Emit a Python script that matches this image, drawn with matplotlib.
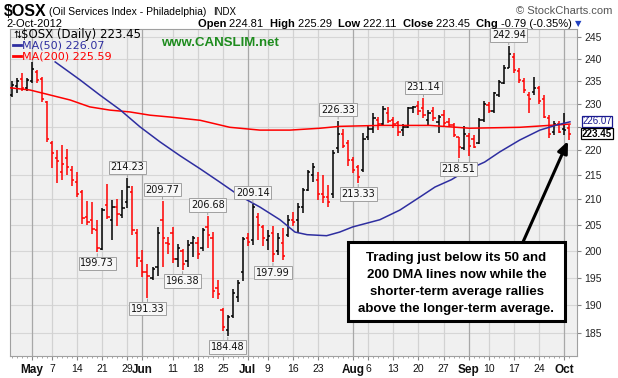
import matplotlib
matplotlib.use('Agg')
import matplotlib.pyplot as plt
import numpy as np
import pandas as pd
from matplotlib.ticker import FixedLocator, NullLocator, FixedFormatter
from matplotlib.patches import Rectangle

# ---------------- data ----------------
dates = pd.bdate_range('2012-04-25', '2012-10-02')
holidays = pd.to_datetime(['2012-05-28', '2012-07-04', '2012-09-03'])
dates = dates[~dates.isin(holidays)]

opens = [232.0, 234.0, 235.5, 233.5, 235.0, 237.0, 235.5, 230.3, 221.5, 218.5,
         215.5, 218.5, 216.0, 213.5, 211.5, 206.5, 206.0, 204.0, 200.4, 209.0,
         206.0, 208.5, 207.0, 209.5, 211.5, 203.5, 198.0, 196.0, 195.0, 197.0,
         206.0, 201.5, 203.5, 198.5, 200.0, 198.0, 201.5, 201.5, 200.5, 204.5,
         202.5, 193.0, 189.0, 185.5, 188.0, 191.5, 196.0, 202.5, 202.0, 206.5,
         204.5, 202.0, 203.5, 200.0, 201.5, 203.0, 206.0, 206.0, 208.5, 212.0,
         215.0, 214.0, 211.0, 210.5, 211.0, 220.5, 223.5, 221.5, 218.0, 216.5,
         216.0, 222.8, 224.5, 226.5, 225.5, 228.0, 226.5, 225.8, 224.3, 225.0,
         229.0, 229.5, 229.0, 226.5, 228.5, 226.0, 227.5, 226.0, 225.3, 222.9,
         220.5, 223.0, 222.5, 221.5, 226.5, 229.8, 228.3, 232.0, 234.5, 238.0,
         240.5, 237.3, 235.0, 232.0, 232.5, 233.5, 231.0, 227.0, 223.8, 225.5,
         224.5, 224.81]
highs = [234.9, 235.7, 236.8, 235.7, 239.3, 237.5, 235.9, 230.6, 221.9, 220.0,
         221.1, 220.4, 216.8, 215.6, 211.8, 209.7, 209.4, 205.9, 208.3, 213.1,
         209.8, 210.0, 212.0, 214.23, 212.7, 204.2, 200.1, 197.6, 197.0, 204.6,
         209.77, 202.6, 204.6, 201.3, 200.4, 202.0, 202.8, 202.6, 204.3, 206.68,
         203.7, 194.5, 189.5, 188.2, 192.9, 194.5, 202.6, 203.5, 209.14, 207.3,
         205.0, 204.0, 204.8, 203.4, 204.4, 206.9, 207.5, 209.3, 212.3, 216.0,
         217.3, 215.5, 215.0, 212.9, 220.1, 226.33, 224.5, 222.2, 218.6, 217.0,
         223.6, 225.1, 227.9, 227.2, 229.5, 229.3, 227.2, 226.3, 225.5, 229.3,
         229.5, 230.6, 231.14, 228.7, 229.3, 227.5, 228.7, 226.8, 225.8, 222.9,
         225.1, 223.6, 223.2, 226.8, 230.6, 230.4, 232.6, 235.2, 238.5, 242.94,
         241.3, 237.9, 235.6, 232.5, 236.0, 233.8, 231.8, 227.5, 226.3, 226.3,
         227.9, 225.29]
lows = [231.4, 232.4, 232.7, 232.8, 234.5, 234.6, 230.3, 221.8, 216.3, 213.3,
        213.9, 214.9, 212.8, 210.4, 205.2, 204.9, 203.3, 199.73, 200.1, 206.1,
        202.0, 204.8, 206.4, 208.4, 203.0, 197.0, 195.1, 191.33, 194.6, 195.2,
        197.0, 199.5, 197.7, 197.0, 196.38, 197.0, 198.9, 198.5, 200.0, 200.5,
        191.2, 191.0, 185.3, 184.48, 187.7, 190.5, 194.3, 201.0, 201.2, 202.0,
        200.9, 200.1, 197.99, 199.2, 198.3, 202.7, 204.8, 203.4, 207.3, 211.6,
        213.6, 209.9, 209.3, 208.6, 210.3, 219.5, 220.5, 216.7, 215.3, 213.33,
        215.5, 222.1, 223.6, 224.3, 225.3, 225.8, 224.8, 223.0, 223.0, 224.8,
        228.0, 227.5, 226.8, 225.1, 226.3, 223.6, 225.1, 225.0, 222.9, 218.51,
        220.0, 218.8, 220.5, 221.3, 226.0, 227.9, 227.9, 231.5, 234.3, 237.9,
        236.7, 234.5, 232.3, 227.9, 231.8, 230.0, 226.8, 222.7, 223.3, 223.6,
        223.3, 222.11]
closes = [234.2, 235.0, 233.5, 235.2, 237.8, 235.2, 231.0, 222.5, 219.5, 217.8,
          217.2, 216.5, 214.0, 211.0, 206.3, 205.5, 204.2, 200.5, 208.0, 206.5,
          208.5, 207.2, 208.4, 212.5, 204.0, 198.6, 196.0, 195.3, 196.5, 203.5,
          202.5, 201.3, 198.5, 200.5, 197.5, 201.2, 202.5, 199.5, 204.0, 203.0,
          192.5, 192.0, 186.0, 187.8, 192.2, 194.0, 202.2, 201.7, 208.5, 205.0,
          202.5, 202.9, 199.5, 202.5, 199.0, 206.0, 205.5, 208.6, 212.0, 215.5,
          216.5, 211.0, 210.5, 209.5, 219.5, 223.5, 221.0, 218.0, 216.0, 214.5,
          222.5, 224.5, 227.0, 225.5, 228.8, 226.2, 225.5, 224.0, 225.0, 229.0,
          229.3, 228.5, 227.5, 228.0, 226.8, 227.2, 225.8, 225.3, 223.3, 220.8,
          223.5, 221.0, 220.8, 226.5, 230.0, 228.5, 232.3, 234.8, 238.0, 241.0,
          237.5, 235.3, 233.0, 231.0, 233.5, 230.5, 227.2, 223.5, 225.5, 224.0,
          224.24, 223.45]

# moving averages (trading-day number, value)
ma50_day = [8.6, 13.5, 17.5, 21.5, 25.5, 29.5, 33.5, 37.5, 41.4, 45.4, 49.4, 53.4,
            56.4, 58.8, 62.7, 65.3, 67.9, 73.3, 77.3, 81.3, 84.3, 87.6, 90.8, 94.2,
            97.2, 101.2, 105.2, 108.6, 111.2]
ma50_val = [239.3, 235.3, 231.9, 228.7, 225.0, 221.8, 218.9, 216.2, 213.5, 210.7,
            208.5, 206.0, 203.6, 203.1, 202.9, 203.6, 204.6, 206.0, 207.9, 210.5,
            212.5, 214.0, 216.0, 217.6, 219.7, 222.2, 224.3, 225.4, 226.07]
ma200_day = [-0.4, 3.6, 7.6, 11.6, 15.5, 19.5, 23.5, 27.5, 31.5, 37.5, 43.4, 49.4,
             55.4, 61.4, 65.3, 73.3, 83.3, 91.2, 101.2, 111.2]
ma200_val = [233.5, 233.0, 231.9, 230.8, 229.3, 228.6, 228.2, 227.5, 227.1, 226.4,
             224.9, 224.3, 224.3, 224.7, 225.1, 225.3, 225.3, 224.7, 224.9, 225.59]

ytick_vals = [185, 190, 195, 200, 205, 210, 215, 220, 225, 230, 235, 240, 245]
# the 225 label is hidden behind the price tags in the reference
ytick_labels = ['185', '190', '195', '200', '205', '210', '215', '220', '', '230',
                '235', '240', '245']
tick_dates = ['2012-05-01', '2012-05-07', '2012-05-14', '2012-05-21', '2012-05-29',
              '2012-06-01', '2012-06-11', '2012-06-18', '2012-06-25', '2012-07-02',
              '2012-07-09', '2012-07-16', '2012-07-23', '2012-08-01', '2012-08-06',
              '2012-08-13', '2012-08-20', '2012-08-27', '2012-09-04', '2012-09-10',
              '2012-09-17', '2012-09-24', '2012-10-01']
tick_labels = ['May', '7', '14', '21', '29', 'Jun', '11', '18', '25', 'Jul', '9', '16',
               '23', 'Aug', '6', '13', '20', '27', 'Sep', '10', '17', '24', 'Oct']
month_labels = ['May', 'Jun', 'Jul', 'Aug', 'Sep', 'Oct']

label_dates = ['2012-05-18', '2012-05-29', '2012-06-04', '2012-06-07', '2012-06-13',
               '2012-06-20', '2012-06-26', '2012-07-03', '2012-07-10', '2012-07-27',
               '2012-08-02', '2012-08-21', '2012-08-30', '2012-09-14']
label_kind = ['low', 'high', 'low', 'high', 'low', 'high', 'low', 'high', 'low',
              'high', 'low', 'high', 'low', 'high']

symbol = '$OSX'
last_date = '2-Oct-2012'
chg = -0.79
chg_pct = -0.35
ma50_last = 226.07
ma200_last = 225.59
note_lines = ['Trading just below its 50 and', '200 DMA lines now while the',
              'shorter-term average rallies', 'above the longer-term average.']

# ---------------- figure ----------------
W, H = 618, 378
fig = plt.figure(figsize=(W / 100, H / 100), dpi=100)
fig.patch.set_facecolor('white')
L, R, T, B = 10, 577, 29, 356
ax = fig.add_axes([L / W, 1 - B / H, (R - L) / W, (B - T) / H])
ax.set_facecolor('#F0F0F0')
ax.set_yscale('log')
ax.set_ylim(181.0, 246.9)
ax.set_xlim(-0.4, 112.6)

n = len(closes)
x = np.arange(n)
day_of = {d.strftime('%Y-%m-%d'): i for i, d in enumerate(dates)}

# grid
for v in ytick_vals:
    ax.axhline(v, color='#D6D6D6', lw=0.8, zorder=0)
tick_pos = [day_of[d] for d in tick_dates]
for p, lab in zip(tick_pos, tick_labels):
    c = '#A8A8A8' if lab in month_labels else '#D2D2D2'
    ax.axvline(p, color=c, lw=0.9, zorder=0)

# OHLC bars
cols = []
for i in range(n):
    prev = closes[i - 1] if i > 0 else opens[i]
    cols.append('#000000' if closes[i] >= prev else '#FF0000')
ax.vlines(x, lows, highs, colors=cols, lw=1.1, zorder=3)
ax.hlines(opens, x - 0.45, x, colors=cols, lw=1.1, zorder=3)
ax.hlines(closes, x, x + 0.45, colors=cols, lw=1.1, zorder=3)

# moving averages
ax.plot(ma200_day, ma200_val, color='#FF0000', lw=1.1, zorder=4)
ax.plot(ma50_day, ma50_val, color='#2E2EA0', lw=1.1, zorder=4)

# axes styling
ax.yaxis.tick_right()
ax.yaxis.set_major_locator(FixedLocator(ytick_vals))
ax.yaxis.set_major_formatter(FixedFormatter(ytick_labels))
ax.yaxis.set_minor_locator(NullLocator())
ax.tick_params(axis='y', which='major', length=3, width=0.8, pad=2,
               labelsize=7.5, color='#888888', labelcolor='#222222')
ax.xaxis.set_major_locator(FixedLocator(tick_pos))
ax.xaxis.set_major_formatter(FixedFormatter(tick_labels))
ax.xaxis.set_minor_locator(FixedLocator(list(x)))
ax.tick_params(axis='x', which='major', length=3, width=0.8, pad=3,
               labelsize=7.5, color='#888888', labelcolor='#111111')
ax.tick_params(axis='x', which='minor', length=1.5, width=0.6, color='#999999')
for t in ax.get_xticklabels():
    t.set_family('Liberation Sans')
    if t.get_text() in month_labels:
        t.set_fontweight('bold')
        t.set_fontsize(8.5)
for t in ax.get_yticklabels():
    t.set_family('Liberation Sans')
for s in ax.spines.values():
    s.set_color('#A0A0A0')
    s.set_linewidth(0.8)

# high / low labels
for d, kind in zip(label_dates, label_kind):
    i = day_of[d]
    v = highs[i] if kind == 'high' else lows[i]
    off = 8 if kind == 'high' else -8
    ax.annotate(f'{v:.2f}', xy=(i, v), xytext=(0, off), textcoords='offset points',
                ha='center', va='center', fontsize=7, family='DejaVu Sans', color='#111111',
                bbox=dict(boxstyle='square,pad=0.18', fc='#F7F7F7', ec='#A0A0A0', lw=0.7),
                arrowprops=dict(arrowstyle='-', color='#A0A0A0', lw=0.7, shrinkA=0, shrinkB=1),
                zorder=6)


def ft(px, py, s, **kw):
    return fig.text(px / W, 1 - py / H, s, **kw)


# header
ft(4, 15.5, symbol.replace('$', r'\$'), fontsize=11.5, fontweight='bold',
   family='Liberation Sans')
ft(49, 15, '(Oil Services Index - Philadelphia)', fontsize=7.5, family='Liberation Sans')
ft(213, 15, 'INDX', fontsize=7, family='Liberation Sans')
ft(612, 14, '\u00a9 StockCharts.com', fontsize=8, color='#555555', ha='right',
   family='Liberation Sans')
ft(6, 27, last_date, fontsize=8, family='Liberation Sans')

pieces = [('Open ', True), (f'{opens[-1]:.2f}  ', False), ('High ', True),
          (f'{highs[-1]:.2f}  ', False), ('Low ', True), (f'{lows[-1]:.2f}  ', False),
          ('Close ', True), (f'{closes[-1]:.2f}  ', False), ('Chg ', True),
          (f'{chg:.2f} ({chg_pct:.2f}%)', False)]
renderer = fig.canvas.get_renderer()
txts = []
for s, bold in pieces:
    t = ft(0, 27, s, fontsize=8, fontweight='bold' if bold else 'normal',
           family='Liberation Sans')
    txts.append(t)
widths = [t.get_window_extent(renderer).width for t in txts]
xcur = 572 - sum(widths)
for t, w in zip(txts, widths):
    t.set_x(xcur / W)
    xcur += w
ft(578, 26, '\u25bc', fontsize=6, color='#2040C0', ha='center', family='DejaVu Sans')

# legend inside the plot
ft(13, 38, '\u21c5', fontsize=7, family='DejaVu Sans')
ft(21, 38, symbol.replace('$', r'\$') + f' (Daily) {closes[-1]:.2f}', fontsize=8.5,
   family='DejaVu Sans')
fig.add_artist(plt.Line2D([13 / W, 21 / W], [1 - 45 / H, 1 - 45 / H], color='#2E2EA0', lw=2))
ft(22, 48.5, f'MA(50) {ma50_last:.2f}', fontsize=8, color='#2E2EA0', family='DejaVu Sans')
fig.add_artist(plt.Line2D([13 / W, 21 / W], [1 - 56 / H, 1 - 56 / H], color='#FF0000', lw=2))
ft(22, 59.5, f'MA(200) {ma200_last:.2f}', fontsize=8, color='#FF0000', family='DejaVu Sans')

ft(161, 46, 'www.CANSLIM.net', fontsize=9.5, fontweight='bold', color='#1E8C1E',
   family='Liberation Sans')

# price tags on the right axis
ft(597, 121.5, f'{ma50_last:.2f}', fontsize=7, color='#1A1A90', ha='center', va='center',
   family='Liberation Sans',
   bbox=dict(boxstyle='square,pad=0.05', fc='white', ec='#1A1A90', lw=0.9))
ft(597, 133.5, f'{closes[-1]:.2f}', fontsize=7, fontweight='bold', ha='center',
   va='center', family='Liberation Sans',
   bbox=dict(boxstyle='square,pad=0.05', fc='white', ec='black', lw=0.9))

# note box
fig.add_artist(Rectangle((348 / W, 1 - 321 / H), (565 - 348) / W, (321 - 242) / H,
                         transform=fig.transFigure, fc='white', ec='black', lw=2.2,
                         zorder=7))
for k, line in enumerate(note_lines):
    ft(456.5, 258 + k * 17, line, fontsize=9.5, fontweight='bold', ha='center',
       va='center', family='Liberation Sans', zorder=8)

# arrow
ax.annotate('', xy=(568, H - 141), xycoords='figure pixels',
            xytext=(523, H - 242), textcoords='figure pixels',
            arrowprops=dict(arrowstyle='-|>,head_length=0.7,head_width=0.3',
                            color='black', lw=2.2, shrinkA=0, shrinkB=0),
            zorder=8)

fig.savefig('out.png', dpi=100, facecolor='white')
